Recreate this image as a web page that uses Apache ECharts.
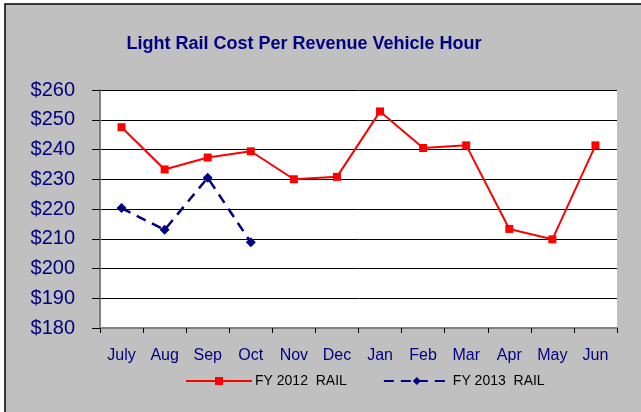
<!DOCTYPE html>
<html>
<head>
<meta charset="utf-8">
<script src="https://cdn.jsdelivr.net/npm/echarts@6/dist/echarts.min.js"></script>
<style>
  html, body { margin: 0; padding: 0; background: #ffffff; }
  #main { width: 641px; height: 412px; }
</style>
</head>
<body>
<div id="main"></div>
<script>
var months = ['July', 'Aug', 'Sep', 'Oct', 'Nov', 'Dec', 'Jan', 'Feb', 'Mar', 'Apr', 'May', 'Jun'];
var fy2012 = [247.5, 233.3, 237.3, 239.4, 230.0, 230.8, 252.8, 240.5, 241.4, 213.3, 209.8, 241.4];
var fy2013 = [220.3, 213.0, 230.5, 208.8];

var navy = '#000080';
var chart = echarts.init(document.getElementById('main'));
chart.setOption({
    animation: false,
    backgroundColor: '#ffffff',
    graphic: [
        {
            type: 'rect',
            z: -10,
            shape: { x: 5, y: 4, width: 700, height: 500 },
            style: { fill: '#c0c0c0', stroke: '#000000', lineWidth: 1.5 }
        }
    ],
    title: {
        text: 'Light Rail Cost Per Revenue Vehicle Hour',
        left: 299,
        top: 30,
        textAlign: 'center',
        textStyle: {
            color: navy,
            fontFamily: 'Arial, sans-serif',
            fontWeight: 'bold',
            fontSize: 18
        }
    },
    legend: {
        bottom: 19,
        left: 180,
        itemGap: 36,
        itemWidth: 66,
        itemHeight: 10,
        textStyle: { color: '#000000', fontFamily: 'Arial', fontSize: 14, padding: [0, 0, 0, -2] },
        data: ['FY 2012  RAIL', 'FY 2013  RAIL']
    },
    grid: {
        left: 100,
        right: 24,
        top: 90,
        bottom: 84,
        show: true,
        backgroundColor: '#ffffff',
        borderWidth: 0
    },
    xAxis: {
        type: 'category',
        data: months,
        boundaryGap: true,
        axisLine: { lineStyle: { color: '#808080', width: 2 } },
        axisTick: { show: true, length: 5, lineStyle: { color: '#000000' } },
        axisLabel: { color: navy, fontFamily: 'Arial', fontSize: 16, margin: 20 }
    },
    yAxis: {
        type: 'value',
        min: 180,
        max: 260,
        interval: 10,
        axisLine: { show: true, lineStyle: { color: '#808080', width: 2 } },
        axisTick: { show: true, length: 8, lineStyle: { color: '#000000' } },
        axisLabel: {
            color: navy,
            fontFamily: 'Arial',
            fontSize: 20,
            margin: 25,
            formatter: function (v) { return '$' + v; }
        },
        splitLine: { lineStyle: { color: '#000000', width: 1 } }
    },
    series: [
        {
            name: 'FY 2012  RAIL',
            type: 'line',
            data: fy2012,
            symbol: 'rect',
            symbolSize: 8,
            color: '#ff0000',
            lineStyle: { color: '#ff0000', width: 2 },
            itemStyle: { color: '#ff0000' }
        },
        {
            name: 'FY 2013  RAIL',
            type: 'line',
            data: fy2013,
            symbol: 'diamond',
            symbolSize: 10,
            color: navy,
            lineStyle: { color: navy, width: 2.5, type: [10, 7] },
            itemStyle: { color: navy }
        }
    ]
});
</script>
</body>
</html>
